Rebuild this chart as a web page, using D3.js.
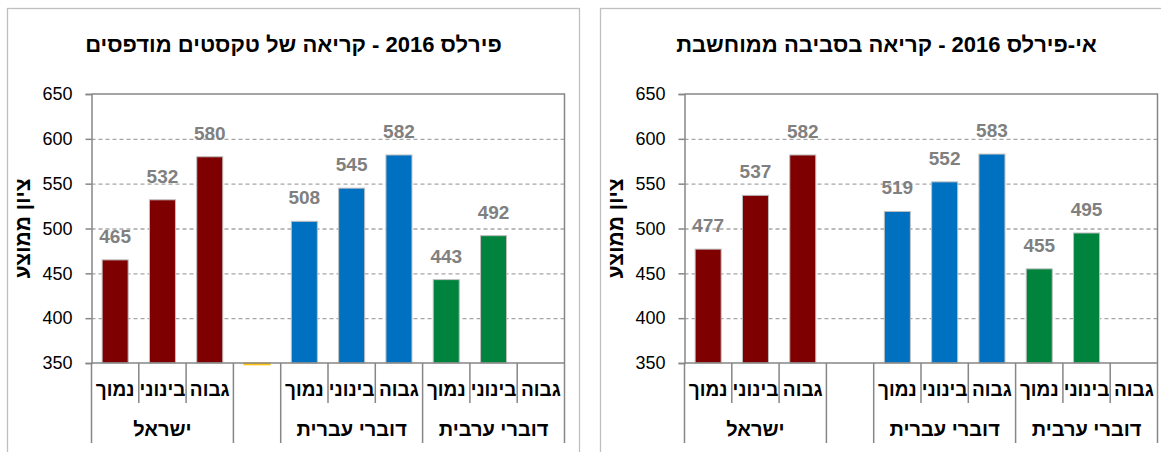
<!DOCTYPE html>
<html>
<head>
<meta charset="utf-8">
<script src="https://cdn.jsdelivr.net/npm/d3@7"></script>
<style>
body{margin:0;background:#fff}
text{font-family:"Liberation Sans",Arial,sans-serif}
</style>
</head>
<body>
<svg id="chart"></svg>
<script>
// slots on the category axis (left to right)
var slotLabels = ["נמוך","בינוני","גבוה","","נמוך","בינוני","גבוה","נמוך","בינוני","גבוה"]
var groupNames = ["ישראל","","דוברי עברית","דוברי ערבית"]
var groupSizes = [3,1,3,3]
var slotColors = ["#7f0000","#7f0000","#7f0000","#ffc000","#0070c0","#0070c0","#0070c0","#00843d","#00843d","#00843d"]

var printedTitle = "פירלס 2016 - קריאה של טקסטים מודפסים"
var onlineTitle = "אי-פירלס 2016 - קריאה בסביבה ממוחשבת"
var yTitle = "ציון ממוצע"

// values, null = no bar
var printedValues = [465,532,580,348,508,545,582,443,492,null]
var onlineValues = [477,537,582,null,519,552,583,455,495,null]
// value 348 in printed is the tiny gold stub, no label shown
var printedLabels = [true,true,true,false,true,true,true,true,true,false]
var onlineLabels = [true,true,true,false,true,true,true,true,true,false]

var yTicks = [350,400,450,500,550,600,650]

var svg = d3.select("#chart").attr("width",1161).attr("height",452)

var drawPanel = function(px,title,values,showLabel)
{
    var frame = {width:572,height:470}
    var plot = {left:84.5,top:86,width:473,height:269}

    var panel = svg.append("g").attr("transform","translate("+px+",8)")

    panel.append("rect")
        .attr("x",0.5).attr("y",0.5)
        .attr("width",frame.width).attr("height",frame.height)
        .attr("fill","#fff").attr("stroke","#bfbfbf").attr("stroke-width",1.3)

    panel.append("text")
        .attr("x",frame.width/2+0.5).attr("y",44)
        .attr("text-anchor","middle").attr("direction","rtl")
        .attr("font-size",22).attr("font-weight","bold").attr("fill","#000")
        .text(title)

    panel.append("text")
        .attr("transform","translate("+(plot.left-62)+","+(plot.top+plot.height/2)+") rotate(-90)")
        .attr("text-anchor","middle").attr("direction","rtl")
        .attr("font-size",21).attr("font-weight","bold").attr("fill","#000")
        .text(yTitle)

    var g = panel.append("g").attr("transform","translate("+plot.left+","+plot.top+")")

    var xScale = d3.scaleBand()
        .domain(d3.range(slotLabels.length))
        .range([0,plot.width])
        .paddingInner(0.45)
        .paddingOuter(0.225)

    var yScale = d3.scaleLinear()
        .domain([350,650])
        .range([plot.height,0])

    // grid
    g.append("g")
        .attr("class","grid")
        .call(d3.axisLeft(yScale).tickValues(yTicks.slice(1,-1)).tickSize(-plot.width).tickFormat(""))
        .call(function(s){
            s.select(".domain").remove()
            s.selectAll("line").attr("stroke","#a6a6a6").attr("stroke-width",1.3).attr("stroke-dasharray","4,3")
        })

    // top and right border
    g.append("path")
        .attr("d","M0,0H"+plot.width+"V"+plot.height)
        .attr("fill","none").attr("stroke","#868686").attr("stroke-width",1.5)

    // bars
    var barData = values.map(function(v,i){return {i:i,v:v}}).filter(function(d){return d.v!=null})
    g.selectAll("rect.bar")
        .data(barData)
        .enter()
        .append("rect")
        .attr("class","bar")
        .attr("x",function(d){return xScale(d.i)})
        .attr("width",xScale.bandwidth())
        .attr("y",function(d){return Math.min(yScale(d.v),yScale(350))})
        .attr("height",function(d){return Math.abs(yScale(350)-yScale(d.v))})
        .attr("fill",function(d){return slotColors[d.i]})
        .attr("stroke",function(d){return d.v<350 ? slotColors[d.i] : "#bfbfbf"})
        .attr("stroke-width",1)

    // data labels
    g.selectAll("text.val")
        .data(barData.filter(function(d){return showLabel[d.i]}))
        .enter()
        .append("text")
        .attr("class","val")
        .attr("x",function(d){return xScale(d.i)+xScale.bandwidth()/2})
        .attr("y",function(d){return yScale(d.v)-17})
        .attr("text-anchor","middle")
        .attr("font-size",19).attr("font-weight","bold").attr("fill","#808080")
        .text(function(d){return d.v})

    // y axis
    g.append("g")
        .call(d3.axisLeft(yScale).tickValues(yTicks).tickSize(6).tickPadding(13))
        .call(function(s){
            s.select(".domain").attr("stroke","#868686").attr("stroke-width",1.5)
            s.selectAll("line").attr("stroke","#868686").attr("stroke-width",1.5)
            s.selectAll("text").attr("font-size",18).attr("fill","#000")
                .attr("font-family","'Liberation Sans',Arial,sans-serif")
        })

    // category axis
    var step = xScale.step()
    var groupEdges = [0]
    groupSizes.forEach(function(n){groupEdges.push(groupEdges[groupEdges.length-1]+n)})

    var cat = g.append("g").attr("transform","translate(0,"+plot.height+")")
    cat.append("line")
        .attr("x1",0).attr("x2",plot.width)
        .attr("stroke","#868686").attr("stroke-width",1.5)

    cat.selectAll("line.sep")
        .data(d3.range(slotLabels.length+1))
        .enter()
        .append("line")
        .attr("class","sep")
        .attr("x1",function(i){return i*step}).attr("x2",function(i){return i*step})
        .attr("y1",0)
        .attr("y2",function(i){return groupEdges.indexOf(i)>=0 ? 80 : 40})
        .attr("stroke","#868686").attr("stroke-width",1.5)

    cat.selectAll("text.slot")
        .data(slotLabels)
        .enter()
        .append("text")
        .attr("class","slot")
        .attr("x",function(d,i){return xScale(i)+xScale.bandwidth()/2})
        .attr("y",33)
        .attr("text-anchor","middle").attr("direction","rtl")
        .attr("font-size",19).attr("font-weight","bold").attr("fill","#000")
        .text(function(d){return d})

    cat.selectAll("text.grp")
        .data(groupNames)
        .enter()
        .append("text")
        .attr("class","grp")
        .attr("x",function(d,i){return (groupEdges[i]+groupSizes[i]/2)*step})
        .attr("y",73)
        .attr("text-anchor","middle").attr("direction","rtl")
        .attr("font-size",20).attr("font-weight","bold").attr("fill","#000")
        .text(function(d){return d})
}

drawPanel(7,printedTitle,printedValues,printedLabels)
drawPanel(600,onlineTitle,onlineValues,onlineLabels)
</script>
</body>
</html>
